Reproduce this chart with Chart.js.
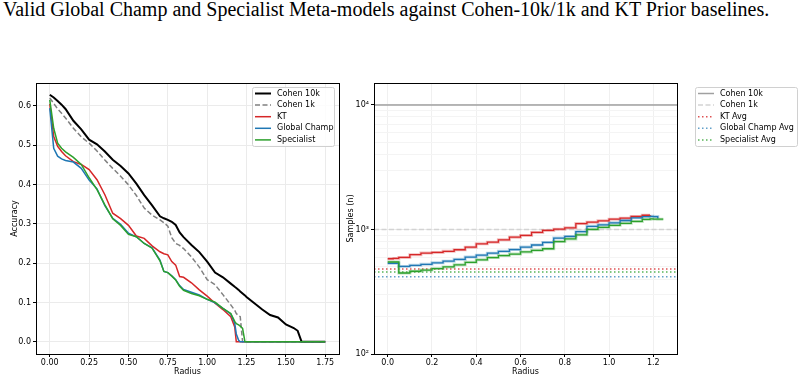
<!DOCTYPE html>
<html lang="en">
<head>
<meta charset="UTF-8">
<title>Meta-models vs baselines</title>
<script src="https://cdn.jsdelivr.net/npm/chart.js@4.4.1/dist/chart.umd.min.js"></script>
<style>
  body { margin: 0; width: 802px; height: 380px; background: #fff; position: relative; overflow: hidden; }
  .caption { position: absolute; left: 3px; top: -2px; font-family: "Liberation Serif", serif; font-size: 20px; color: #000; white-space: nowrap; }
  .box { position: absolute; top: 80px; height: 300px; }
  #left { left: 0; width: 345px; }
  #right { left: 345px; width: 457px; }
</style>
</head>
<body>
<div class="caption">Valid Global Champ and Specialist Meta-models against Cohen-10k/1k and KT Prior baselines.</div>
<div class="box" id="left"><canvas id="accChart" width="345" height="300"></canvas></div>
<div class="box" id="right"><canvas id="sampChart" width="457" height="300"></canvas></div>
<script>
// ---- accuracy vs radius (left) ----
const accRadius = [0, 0.025, 0.05, 0.075, 0.1, 0.15, 0.2, 0.25, 0.3, 0.35, 0.4, 0.45, 0.5, 0.55, 0.6, 0.65, 0.7, 0.725, 0.75, 0.775,
  0.8, 0.825, 0.85, 0.9, 0.95, 1.0, 1.05, 1.1, 1.15, 1.175, 1.185, 1.2, 1.21, 1.225, 1.24, 1.25, 1.3, 1.35, 1.4, 1.45,
  1.5, 1.55, 1.575, 1.6, 1.65, 1.7, 1.75];
const cohen10k = [0.628, 0.621, 0.612, 0.603, 0.592, 0.562, 0.540, 0.514, 0.502, 0.484, 0.463, 0.447, 0.428, 0.402, 0.373, 0.347, 0.319, 0.314, 0.310, 0.305,
  0.297, 0.278, 0.266, 0.246, 0.228, 0.204, 0.176, 0.164, 0.148, 0.140, 0.137, 0.132, 0.128, 0.123, 0.118, 0.114, 0.098, 0.082, 0.068, 0.062,
  0.044, 0.035, 0.028, 0, 0, 0, 0];
const cohen1k = [0.620, 0.606, 0.592, 0.581, 0.569, 0.543, 0.521, 0.505, 0.485, 0.462, 0.441, 0.421, 0.399, 0.372, 0.340, 0.322, 0.310, 0.303, 0.294, 0.265,
  0.250, 0.245, 0.237, 0.216, 0.190, 0.158, 0.145, 0.120, 0.094, 0.080, 0.072, 0.066, 0.064, 0, 0, 0, 0, 0, 0, 0,
  0, 0, 0, 0, 0, 0, 0];
const ktAcc = [0.605, 0.522, 0.497, 0.484, 0.473, 0.458, 0.451, 0.438, 0.412, 0.374, 0.327, 0.313, 0.296, 0.269, 0.263, 0.244, 0.229, 0.224, 0.221, 0.204,
  0.195, 0.166, 0.164, 0.150, 0.132, 0.116, 0.098, 0.082, 0.064, 0.038, 0, 0, 0, 0, 0, 0, 0, 0, 0, 0,
  0, 0, 0, 0, 0, 0, 0];
const champAcc = [0.594, 0.492, 0.472, 0.465, 0.461, 0.457, 0.441, 0.411, 0.389, 0.346, 0.314, 0.299, 0.276, 0.267, 0.250, 0.239, 0.208, 0.179, 0.176, 0.168,
  0.158, 0.143, 0.133, 0.126, 0.119, 0.108, 0.099, 0.085, 0.071, 0.047, 0.020, 0.004, 0, 0, 0, 0, 0, 0, 0, 0,
  0, 0, 0, 0, 0, 0, 0];
const specAcc = [0.615, 0.543, 0.505, 0.492, 0.483, 0.469, 0.451, 0.417, 0.387, 0.348, 0.313, 0.296, 0.273, 0.267, 0.250, 0.238, 0.206, 0.179, 0.176, 0.167,
  0.157, 0.141, 0.131, 0.123, 0.117, 0.108, 0.101, 0.085, 0.072, 0.052, 0.046, 0.043, 0.040, 0.034, 0, 0, 0, 0, 0, 0,
  0, 0, 0, 0, 0, 0, 0];
const accXTicks = [0, 0.25, 0.5, 0.75, 1.0, 1.25, 1.5, 1.75];
const accYTicks = [0, 0.1, 0.2, 0.3, 0.4, 0.5, 0.6];

// ---- samples vs radius (right) ----
const sampRadius = [0, 0.025, 0.05, 0.1, 0.15, 0.2, 0.25, 0.3, 0.35, 0.4, 0.45, 0.5, 0.55, 0.6, 0.65, 0.7, 0.75, 0.8, 0.85, 0.9,
  0.95, 1.0, 1.05, 1.1, 1.15, 1.185, 1.2, 1.22, 1.245];
const ktSamp = [582, 585, 596, 627, 646, 654, 667, 687, 721, 767, 791, 826, 867, 895, 946, 982, 1006, 1030, 1115, 1145,
  1174, 1210, 1233, 1271, 1300, 1305, null, null, null];
const champSamp = [535, 535, 505, 515, 525, 540, 556, 575, 600, 622, 645, 668, 690, 722, 750, 787, 853, 880, 960, 1060,
  1090, 1130, 1180, 1240, 1268, 1275, 1270, 1225, null];
const specSamp = [548, 548, 447, 462, 472, 485, 500, 520, 545, 570, 595, 617, 635, 660, 680, 700, 800, 840, 906, 1000,
  1040, 1080, 1120, 1160, 1205, 1215, 1212, 1210, 1210];
const refLevels = [10000, 1000];          // Cohen 10k, Cohen 1k
const avgLevels = [481, 418, 455];        // KT Avg, Global Champ Avg, Specialist Avg
const sampXTicks = [0, 0.2, 0.4, 0.6, 0.8, 1.0, 1.2];
const sampYMajor = [100, 1000, 10000];
const sampYLabels = ['10\u00b2', '10\u00b3', '10\u2074'];

const sampXMin = -0.062, sampXMax = 1.307;

Chart.defaults.font.family = 'DejaVu Sans';
Chart.defaults.font.size = 8;
Chart.defaults.color = '#000';

function pts(xs, ys) {
  return xs.map((x, i) => ({ x: x, y: ys[i] })).filter(p => p.y !== null);
}
function hline(v) {
  return [{ x: sampXMin, y: v }, { x: sampXMax, y: v }];
}
// fixed box size, no extra label padding pushed onto the chart area
function fixSize(w, h) {
  return s => {
    if (w) s.width = w;
    if (h) s.height = h;
    s.paddingTop = 0; s.paddingBottom = 0; s.paddingLeft = 0; s.paddingRight = 0;
  };
}

const frame = {
  id: 'frame',
  afterDraw(chart) {
    const ctx = chart.ctx, a = chart.chartArea;
    ctx.save();
    ctx.strokeStyle = '#000';
    ctx.lineWidth = 1;
    ctx.strokeRect(Math.round(a.left) + 0.5, Math.round(a.top) + 0.5, Math.round(a.right - a.left), Math.round(a.bottom - a.top));
    ctx.restore();
  }
};

const boxLegend = {
  id: 'boxLegend',
  afterDraw(chart, args, opts) {
    if (!opts.items) return;
    const ctx = chart.ctx;
    ctx.save();
    ctx.fillStyle = 'rgba(255,255,255,0.85)';
    ctx.strokeStyle = '#d0d0d0';
    ctx.lineWidth = 1;
    ctx.beginPath();
    ctx.roundRect(opts.x + 0.5, opts.y + 0.5, opts.w, opts.h, 2);
    ctx.fill();
    ctx.stroke();
    ctx.font = '8px "DejaVu Sans"';
    ctx.textBaseline = 'middle';
    opts.items.forEach((it, i) => {
      const yy = opts.y + 6.5 + i * 11.6;
      ctx.beginPath();
      ctx.strokeStyle = it.color;
      ctx.lineWidth = it.width;
      ctx.setLineDash(it.dash || []);
      ctx.moveTo(opts.x + 3, yy);
      ctx.lineTo(opts.x + 19, yy);
      ctx.stroke();
      ctx.setLineDash([]);
      ctx.fillStyle = '#000';
      ctx.fillText(it.label, opts.x + 25, yy);
    });
    ctx.restore();
  }
};

const lineBase = { pointRadius: 0, fill: false, tension: 0, borderCapStyle: 'butt' };

new Chart(document.getElementById('accChart'), {
  type: 'line',
  data: {
    datasets: [
      Object.assign({ data: pts(accRadius, specAcc), borderColor: '#2ca02c', borderWidth: 1.5, order: 0 }, lineBase),
      Object.assign({ data: pts(accRadius, champAcc), borderColor: '#1f77b4', borderWidth: 1.5, order: 1 }, lineBase),
      Object.assign({ data: pts(accRadius, ktAcc), borderColor: '#d62728', borderWidth: 1.5, order: 2 }, lineBase),
      Object.assign({ data: pts(accRadius, cohen1k), borderColor: '#808080', borderWidth: 1.5, borderDash: [5, 2.5], order: 3 }, lineBase),
      Object.assign({ data: pts(accRadius, cohen10k), borderColor: '#000', borderWidth: 2, order: 4 }, lineBase)
    ]
  },
  options: {
    responsive: false,
    animation: false,
    layout: { padding: { top: 3, right: 6, left: 0, bottom: 0 } },
    plugins: {
      legend: { display: false },
      tooltip: { enabled: false },
      boxLegend: {
        x: 252, y: 7, w: 82, h: 59,
        items: [
          { label: 'Cohen 10k', color: '#000', width: 2 },
          { label: 'Cohen 1k', color: '#808080', width: 1.5, dash: [5, 2.5] },
          { label: 'KT', color: '#d62728', width: 1.5 },
          { label: 'Global Champ', color: '#1f77b4', width: 1.5 },
          { label: 'Specialist', color: '#2ca02c', width: 1.5 }
        ]
      }
    },
    scales: {
      x: {
        type: 'linear', min: -0.0875, max: 1.8375,
        afterBuildTicks: s => { s.ticks = accXTicks.map(v => ({ value: v })); },
        afterFit: fixSize(0, 26),
        ticks: { callback: v => v.toFixed(2), maxRotation: 0, autoSkip: false, padding: 1 },
        grid: { color: '#ebebeb', tickColor: '#000', tickLength: 3 },
        border: { display: false },
        title: { display: true, text: 'Radius', padding: { top: 0, bottom: 3 } }
      },
      y: {
        type: 'linear', min: -0.031, max: 0.658,
        afterBuildTicks: s => { s.ticks = accYTicks.map(v => ({ value: v })); },
        afterFit: fixSize(36, 0),
        ticks: { callback: v => v.toFixed(1), autoSkip: false, padding: 2 },
        grid: { color: '#ebebeb', tickColor: '#000', tickLength: 3 },
        border: { display: false },
        title: { display: true, text: 'Accuracy', padding: { top: 10, bottom: 0 } }
      }
    }
  },
  plugins: [frame, boxLegend]
});

const stepBase = Object.assign({ stepped: 'before' }, lineBase);
const avgBase = Object.assign({ borderWidth: 1.5, borderDash: [1.5, 2.5] }, lineBase);

new Chart(document.getElementById('sampChart'), {
  type: 'line',
  data: {
    datasets: [
      Object.assign({ data: pts(sampRadius, specSamp), borderColor: '#2ca02c', borderWidth: 1.3, order: 0 }, stepBase),
      Object.assign({ data: pts(sampRadius, champSamp), borderColor: '#1f77b4', borderWidth: 1.3, order: 1 }, stepBase),
      Object.assign({ data: pts(sampRadius, ktSamp), borderColor: '#d62728', borderWidth: 1.3, order: 2 }, stepBase),
      Object.assign({ data: pts(sampRadius, specSamp), borderColor: 'rgba(44,160,44,0.3)', borderWidth: 3, order: 3 }, stepBase),
      Object.assign({ data: pts(sampRadius, champSamp), borderColor: 'rgba(31,119,180,0.3)', borderWidth: 3, order: 4 }, stepBase),
      Object.assign({ data: pts(sampRadius, ktSamp), borderColor: 'rgba(214,39,40,0.3)', borderWidth: 3, order: 5 }, stepBase),
      Object.assign({ data: hline(avgLevels[0]), borderColor: 'rgba(214,39,40,0.8)', order: 6 }, avgBase),
      Object.assign({ data: hline(avgLevels[1]), borderColor: 'rgba(31,119,180,0.7)', order: 7 }, avgBase),
      Object.assign({ data: hline(avgLevels[2]), borderColor: 'rgba(44,160,44,0.8)', order: 8 }, avgBase),
      Object.assign({ data: hline(refLevels[0]), borderColor: '#a0a0a0', borderWidth: 1.5, order: 9 }, lineBase),
      Object.assign({ data: hline(refLevels[1]), borderColor: '#d3d3d3', borderWidth: 1.5, borderDash: [5, 2.5], order: 10 }, lineBase)
    ]
  },
  options: {
    responsive: false,
    animation: false,
    layout: { padding: { top: 3, right: 125, left: 0, bottom: 0 } },
    plugins: {
      legend: { display: false },
      tooltip: { enabled: false },
      boxLegend: {
        x: 350, y: 7, w: 102, h: 59,
        items: [
          { label: 'Cohen 10k', color: '#a0a0a0', width: 1.5 },
          { label: 'Cohen 1k', color: '#d3d3d3', width: 1.5, dash: [5, 2.5] },
          { label: 'KT Avg', color: 'rgba(214,39,40,0.8)', width: 1.5, dash: [1.5, 2.5] },
          { label: 'Global Champ Avg', color: 'rgba(31,119,180,0.7)', width: 1.5, dash: [1.5, 2.5] },
          { label: 'Specialist Avg', color: 'rgba(44,160,44,0.8)', width: 1.5, dash: [1.5, 2.5] }
        ]
      }
    },
    scales: {
      x: {
        type: 'linear', min: sampXMin, max: sampXMax,
        afterBuildTicks: s => { s.ticks = sampXTicks.map(v => ({ value: v })); },
        afterFit: fixSize(0, 26),
        ticks: { callback: v => v.toFixed(1), maxRotation: 0, autoSkip: false, padding: 1 },
        grid: { color: '#f0f0f0', tickColor: '#000', tickLength: 3 },
        border: { display: false },
        title: { display: true, text: 'Radius', padding: { top: 0, bottom: 3 } }
      },
      y: {
        type: 'logarithmic', min: 100, max: 15000,
        afterBuildTicks: s => {
          const t = [];
          [100, 1000].forEach(d => { for (let k = 1; k < 10; k++) t.push({ value: d * k, major: k === 1 }); });
          t.push({ value: 10000, major: true });
          s.ticks = t;
        },
        afterFit: fixSize(29, 0),
        ticks: {
          autoSkip: false, padding: 2,
          callback: v => { const i = sampYMajor.indexOf(v); return i >= 0 ? sampYLabels[i] : ''; }
        },
        grid: {
          color: c => (c.tick && c.tick.major) ? '#ebebeb' : '#f4f4f4',
          tickColor: c => (c.tick && c.tick.major) ? '#000' : 'rgba(0,0,0,0)',
          tickLength: 3
        },
        border: { display: false },
        title: { display: true, text: 'Samples (n)', padding: { top: 1, bottom: 0 } }
      }
    }
  },
  plugins: [frame, boxLegend]
});
</script>
</body>
</html>
